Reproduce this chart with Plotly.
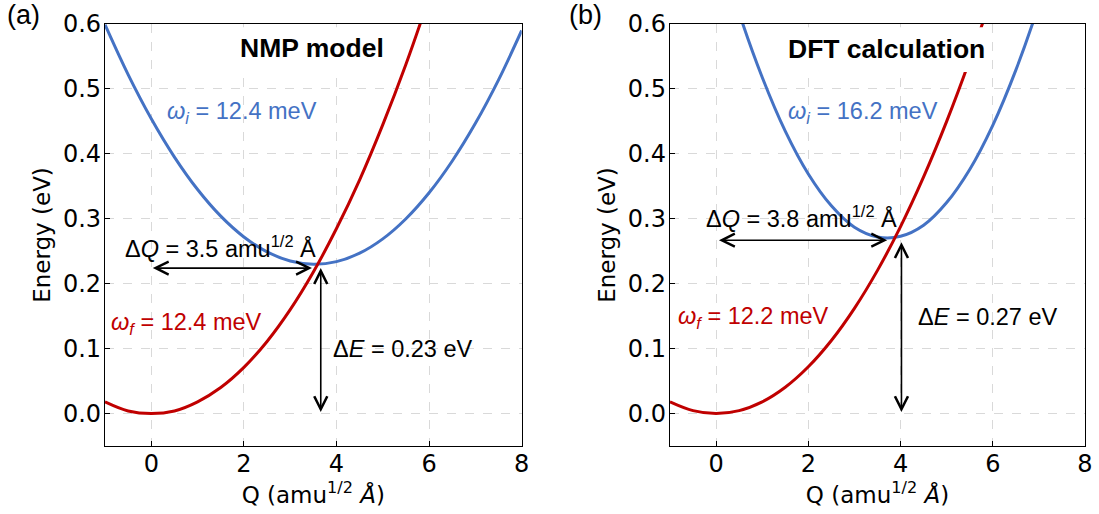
import plotly.graph_objects as go

# ---------------- data ----------------
Q = [-1.0, -0.5, 0.0, 0.5, 1.0, 1.5, 2.0, 2.5, 3.0, 3.5, 4.0, 4.5,
     5.0, 5.5, 6.0, 6.5, 7.0, 7.5, 8.0]

# panel (a) NMP model
nmp_initial = [0.599, 0.522, 0.454, 0.395, 0.345, 0.304, 0.272, 0.249, 0.235,
               0.230, 0.234, 0.247, 0.269, 0.300, 0.340, 0.389, 0.447, 0.514, 0.590]
nmp_final = [0.018, 0.004, 0.000, 0.004, 0.018, 0.040, 0.071, 0.111, 0.160,
             0.218, 0.285, 0.360, 0.445, 0.538, 0.641, 0.752, 0.872, 1.001, 1.139]

# panel (b) DFT calculation
dft_initial = [1.016, 0.867, 0.734, 0.617, 0.518, 0.435, 0.369, 0.320, 0.287,
               0.272, 0.273, 0.290, 0.325, 0.376, 0.444, 0.529, 0.630, 0.749, 0.884]
dft_final = [0.018, 0.0045, 0.000, 0.0045, 0.018, 0.0405, 0.072, 0.1125, 0.162,
             0.2205, 0.288, 0.3645, 0.450, 0.5445, 0.648, 0.7605, 0.882, 1.0125, 1.152]

panel_titles = ["NMP model", "DFT calculation"]
panel_tags = ["(a)", "(b)"]
omega_i_text = ["12.4", "16.2"]
omega_f_text = ["12.4", "12.2"]
dQ_text = ["3.5", "3.8"]
dE_text = ["0.23", "0.27"]

# arrow end points (Q, E)
dQ_arrow_Q = [[0.0, 3.47], [0.03, 3.71]]
dQ_arrow_E = [0.224, 0.267]
dE_arrow_Q = [3.66, 4.02]
dE_arrow_E = [[0.0, 0.224], [0.0, 0.264]]

x_ticks = [0, 2, 4, 6, 8]
y_ticks = [0.0, 0.1, 0.2, 0.3, 0.4, 0.5, 0.6]

# ---------------- styling ----------------
BLUE = "#4472C4"
RED = "#C00000"
TICK_FONT = dict(family="DejaVu Sans", size=24, color="black")
TITLE_FONT = dict(family="DejaVu Sans", size=23, color="black")
ARIAL = "Arial, Liberation Sans, sans-serif"

fig = go.Figure()

series = [(nmp_initial, nmp_final), (dft_initial, dft_final)]
for i, (ei, ef) in enumerate(series):
    xa = "x" if i == 0 else "x2"
    ya = "y" if i == 0 else "y2"
    fig.add_trace(go.Scatter(x=Q, y=ei, mode="lines", xaxis=xa, yaxis=ya,
                             line=dict(color=BLUE, width=3, shape="spline"),
                             showlegend=False, hoverinfo="skip"))
    fig.add_trace(go.Scatter(x=Q, y=ef, mode="lines", xaxis=xa, yaxis=ya,
                             line=dict(color=RED, width=3, shape="spline"),
                             showlegend=False, hoverinfo="skip"))

axis_common = dict(
    showline=True, linecolor="black", linewidth=1.3, mirror=True,
    ticks="inside", ticklen=5, tickwidth=1.2, tickcolor="black",
    showgrid=True, gridcolor="#d9d9d9", griddash="dash", gridwidth=1,
    zeroline=False, tickfont=TICK_FONT, automargin=False,
)

fig.update_layout(
    width=1099, height=514,
    margin=dict(l=105, r=14, t=24, b=68),
    paper_bgcolor="white", plot_bgcolor="white",
    xaxis=dict(domain=[0, 0.4252], range=[-1, 8], tickvals=x_ticks, anchor="y",
               title=dict(text="Q (amu<sup>1/2</sup> <i>Å</i>)", font=TITLE_FONT, standoff=0),
               ticklabelstandoff=-4, **axis_common),
    yaxis=dict(domain=[0, 1], range=[-0.05, 0.6], tickvals=y_ticks, tickformat=".1f",
               anchor="x", title=dict(text="Energy (eV)", font=TITLE_FONT, standoff=5),
               ticklabelstandoff=-2, **axis_common),
    xaxis2=dict(domain=[0.5765, 1], range=[-1, 8], tickvals=x_ticks, anchor="y2",
                title=dict(text="Q (amu<sup>1/2</sup> <i>Å</i>)", font=TITLE_FONT, standoff=0),
                ticklabelstandoff=-4, **axis_common),
    yaxis2=dict(domain=[0, 1], range=[-0.05, 0.6], tickvals=y_ticks, tickformat=".1f",
                anchor="x2", title=dict(text="Energy (eV)", font=TITLE_FONT, standoff=5),
                ticklabelstandoff=-2, **axis_common),
)

# label positions (data coords) per panel
title_pos = [(3.47, 0.563), (3.69, 0.562)]
title_box_x = [(1.82, 5.11), (1.49, 5.90)]
title_box_y = (0.526, 0.595)
wi_pos = [(0.29, 0.463), (1.52, 0.463)]
wf_pos = [(-0.92, 0.139), (-0.86, 0.148)]
dq_pos = [(-0.62, 0.256), (-0.26, 0.303)]
de_pos = [(3.89, 0.099), (4.33, 0.149)]
tag_pos = [-0.102, 0.4714]

for i in range(2):
    xr = "x" if i == 0 else "x2"
    yr = "y" if i == 0 else "y2"
    # white background box behind the panel title (hides lines / grid underneath)
    fig.add_shape(type="rect", xref=xr, yref=yr, layer="above",
                  x0=title_box_x[i][0], x1=title_box_x[i][1],
                  y0=title_box_y[0], y1=title_box_y[1],
                  fillcolor="white", line=dict(width=0))
    lab = dict(xref=xr, yref=yr, showarrow=False, xanchor="left", yanchor="middle")
    fig.add_annotation(x=title_pos[i][0], y=title_pos[i][1], xref=xr, yref=yr,
                       text="<b>%s</b>" % panel_titles[i], showarrow=False,
                       xanchor="center", yanchor="middle",
                       font=dict(family=ARIAL, size=26.5, color="black"))
    fig.add_annotation(x=wi_pos[i][0], y=wi_pos[i][1],
                       text="<i>ω</i><sub><i>i</i></sub> = %s meV" % omega_i_text[i],
                       font=dict(family=ARIAL, size=23.5, color=BLUE), **lab)
    fig.add_annotation(x=wf_pos[i][0], y=wf_pos[i][1],
                       text="<i>ω</i><sub><i>f</i></sub> = %s meV" % omega_f_text[i],
                       font=dict(family=ARIAL, size=23.5, color=RED), **lab)
    fig.add_annotation(x=dq_pos[i][0], y=dq_pos[i][1],
                       text="Δ<i>Q</i> = %s amu<sup>1/2</sup> Å" % dQ_text[i],
                       font=dict(family=ARIAL, size=23.5, color="black"), **lab)
    fig.add_annotation(x=de_pos[i][0], y=de_pos[i][1],
                       text="Δ<i>E</i> = %s eV" % dE_text[i],
                       font=dict(family=ARIAL, size=23.5, color="black"), **lab)
    arrow = dict(xref=xr, yref=yr, axref=xr, ayref=yr, text="", showarrow=True,
                 arrowside="end+start", arrowhead=5, startarrowhead=5,
                 arrowsize=1.6, startarrowsize=1.6, arrowwidth=1.6, arrowcolor="black",
                 standoff=0, startstandoff=0)
    fig.add_annotation(x=dQ_arrow_Q[i][1], y=dQ_arrow_E[i],
                       ax=dQ_arrow_Q[i][0], ay=dQ_arrow_E[i], **arrow)
    fig.add_annotation(x=dE_arrow_Q[i], y=dE_arrow_E[i][1],
                       ax=dE_arrow_Q[i], ay=dE_arrow_E[i][0], **arrow)
    fig.add_annotation(x=tag_pos[i], y=1.0213, xref="paper", yref="paper",
                       text=panel_tags[i], showarrow=False, xanchor="left", yanchor="middle",
                       font=dict(family=ARIAL, size=27, color="black"))

fig.write_html("out.html", config={"displayModeBar": False},
               post_script="document.body.style.margin='0';")
